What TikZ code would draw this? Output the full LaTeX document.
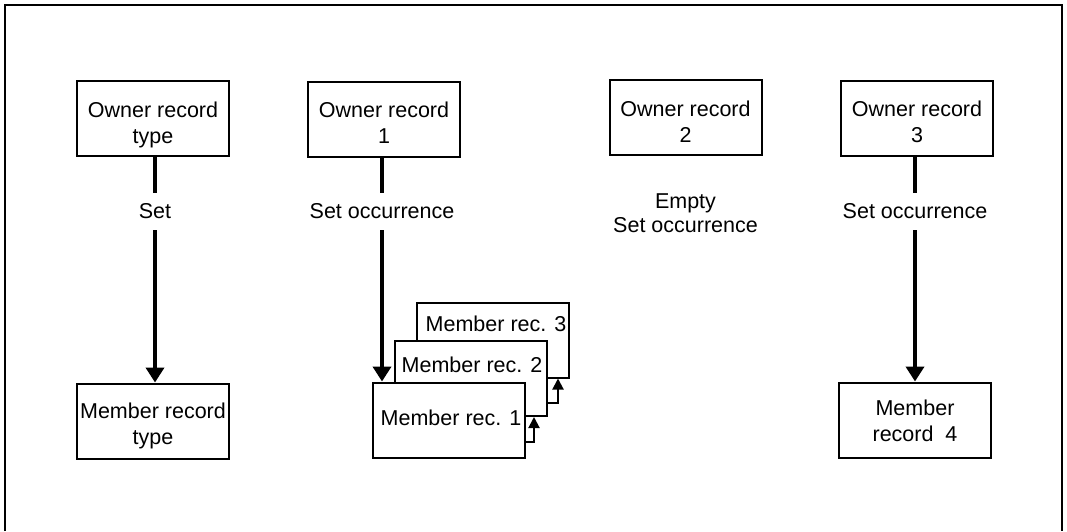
\documentclass[tikz,border=0pt]{standalone}
\usepackage{fontspec}
\setmainfont{Liberation Sans}
\usetikzlibrary{arrows.meta}
\begin{document}
\begin{tikzpicture}[x=1pt,y=-1pt,
  rec/.style={draw,line width=2pt,fill=white,minimum width=152pt,minimum height=75pt,inner sep=0pt},
  txt/.style={inner sep=0pt,align=center,text depth=0pt,font=\fontsize{21.5}{26}\selectfont},
  lab/.style={inner sep=0pt,minimum height=37pt,align=center,font=\fontsize{21.5}{24}\selectfont},
  conn/.style={line width=4pt},
  big/.style={line width=4pt,-{Triangle[width=18pt,length=15pt]}},
  small/.style={line width=2pt,-{Triangle[width=11pt,length=11pt]}}]
\useasboundingbox (0,0) rectangle (1067,531);
\draw[line width=1.5pt] (5,531) -- (5,5) -- (1062,5) -- (1062,531);
% owners
\node[rec] (ot) at (153,118.5) {};
\node[txt] (ott) at ([yshift=-4pt]ot.center) {Owner record\\type};
\node[rec] (o1) at (384,119) {};
\node[txt] (o1t) at ([yshift=-4pt]o1.center) {Owner record\\1};
\node[rec] (o2) at (685.5,117.5) {};
\node[txt] (o2t) at ([yshift=-4pt]o2.center) {Owner record\\2};
\node[rec] (o3) at (917,118) {};
\node[txt] (o3t) at ([yshift=-4pt]o3.center) {Owner record\\3};
% members
\node[rec] (mt) at (153,421) {};
\node[txt] (mtt) at ([yshift=-3pt]mt.center) {Member record\\type};
\node[rec] (m4) at (915,420) {};
\node[txt] (m4t) at ([yshift=-1pt]m4.center) {Member\\record\ \ 4};
\node[rec] (m3) at (493,340) {};
\node[txt,anchor=base] (m3t) at (496,331) {Member rec. 3};
\node[rec] (m2) at (471,378.5) {};
\node[txt,anchor=base] (m2t) at (472,372) {Member rec. 2};
\node[rec] (m1) at (449,420) {};
\node[txt,anchor=base] (m1t) at (451,425) {Member rec. 1};
% labels
\node[lab] (l1) at (155,211.5) {Set};
\node[lab] (l2) at (382,211.5) {Set occurrence};
\node[lab] (l3) at (685.5,213) {Empty\\Set occurrence};
\node[lab] (l4) at (915,211.5) {Set occurrence};
% connectors
\draw[conn] (ot.south -| l1) -- (l1.north);
\draw[big] (l1.south) -- (l1.south |- mt.north);
\draw[conn] (o1.south -| l2) -- (l2.north);
\draw[big] (l2.south) -- (l2.south |- m1.north);
\draw[conn] (o3.south -| l4) -- (l4.north);
\draw[big] (l4.south) -- (m4.north);
% small arrows between members
\coordinate (c1) at (534,442);
\coordinate (c2) at (558,403);
\draw[small] (m1.east |- c1) -- (c1) -- (c1 |- m2.south);
\draw[small] (m2.east |- c2) -- (c2) -- (c2 |- m3.south);
\end{tikzpicture}
\end{document}
